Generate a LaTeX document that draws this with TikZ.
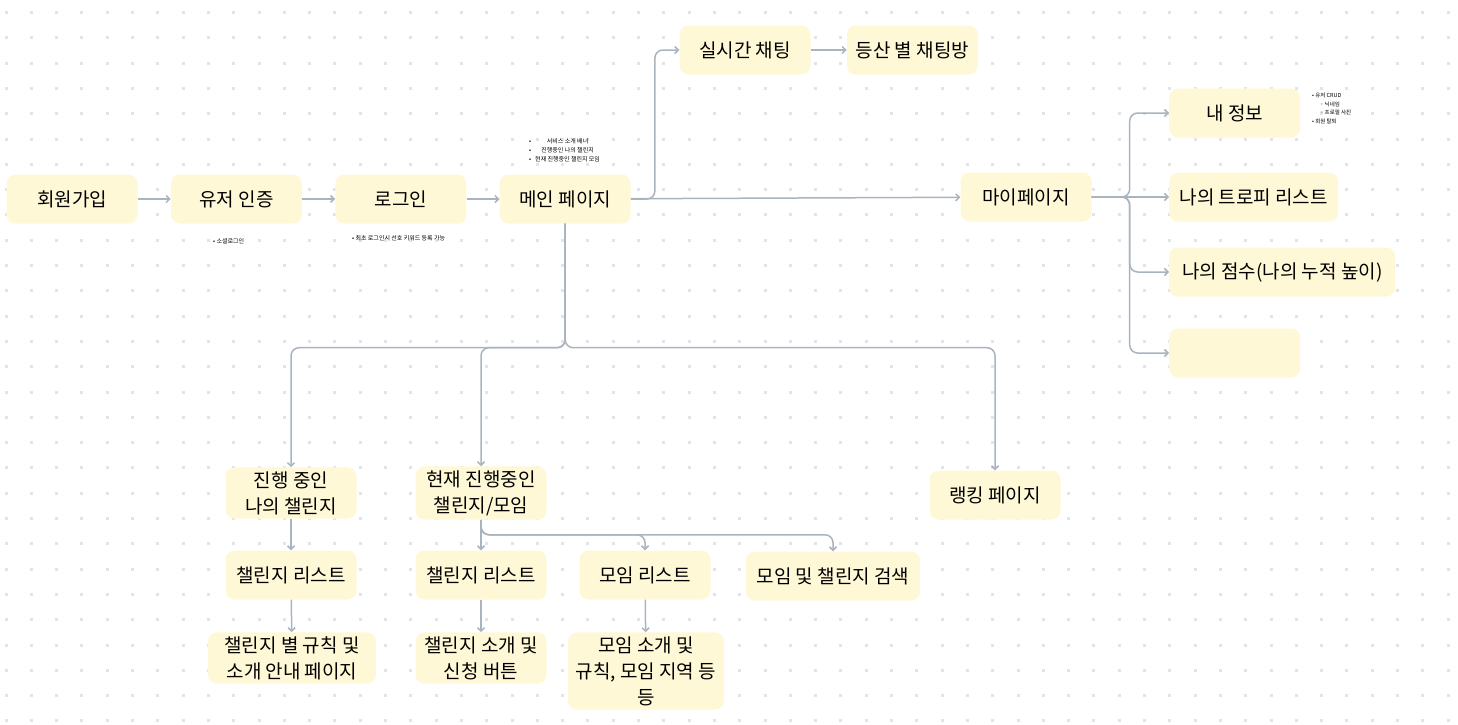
\documentclass[tikz,border=0pt]{standalone}
\usepackage{fontspec}
\setmainfont{Noto Sans CJK KR}
\newfontfamily\symf{DejaVu Sans}
\definecolor{pad}{HTML}{FFF8D6}
\definecolor{wire}{HTML}{AAB4BE}
\definecolor{dotc}{HTML}{E3E4E9}
\usetikzlibrary{positioning,arrows.meta}

\begin{document}
\begin{tikzpicture}[x=1pt,y=-1pt,every node/.style={font=\fontsize{19}{26}\selectfont,align=center},
      bx/.style={fill=pad,rounded corners=9pt,inner xsep=5pt,inner ysep=4pt,minimum width=131pt,minimum height=49pt},
      note/.style={font=\fontsize{6}{9}\selectfont,align=left,inner sep=0pt},
      cn/.style={-{Straight Barb[length=3.5pt,width=7pt]},line width=1.5pt,wire,rounded corners=8pt}]
    \useasboundingbox (0,0) rectangle (1458,724);
    \fill[white] (0,0) rectangle (1458,724);
    % dot grid
    \foreach \i in {0,...,57} \foreach \j in {0,...,28}
      \fill[dotc] ({4.5+25.3*\i},{11+25.3*\j}) rectangle ++(3,3);
    % top row
    \node[bx] (join) at (72,199) {회원가입};
    \node[bx,right=33pt of join] (auth) {유저 인증};
    \node[bx,right=33pt of auth] (login) {로그인};
    \node[bx,right=33pt of login] (main) {메인 페이지};
    \node[bx] (chat) at (745,50) {실시간 채팅};
    \node[bx,right=36pt of chat] (room) {등산 별 채팅방};
    \node[bx] (my) at (1026,197) {마이페이지};
    \node[bx,anchor=west] (info) at (1169,113) {내 정보};
    \node[bx,anchor=west,minimum width=169pt] (trophy) at (1169,197) {나의 트로피 리스트};
    \node[bx,anchor=west,minimum width=226pt] (score) at (1169,272) {나의 점수(나의 누적 높이)};
    \node[bx,anchor=west] (blank) at (1169,353) {};
    % lower tree
    \node[bx] (mych) at (291,493) {진행 중인\\나의 챌린지};
    \node[bx] (curch) at (481,493) {현재 진행중인\\챌린지/모임};
    \node[bx] (rank) at (995,495) {랭킹 페이지};
    \node[bx] (chl1) at (291,575) {챌린지 리스트};
    \node[bx] (chl2) at (481,575) {챌린지 리스트};
    \node[bx] (meet) at (645,575) {모임 리스트};
    \node[bx,minimum width=174pt] (search) at (833,576) {모임 및 챌린지 검색};
    \node[bx,minimum width=168pt] (rule) at (292,658) {챌린지 별 규칙 및\\소개 안내 페이지};
    \node[bx] (apply) at (481,658) {챌린지 소개 및\\신청 버튼};
    \node[bx,minimum width=156pt] (meetd) at (646,671) {모임 소개 및\\규칙, 모임 지역 등\\등};
    % notes
    \node[note,anchor=north west] (n1) at (529,137) {\begin{tabular}{@{}l@{\hspace{4pt}}c@{}}•&서비스 소개 배너\\•&진행중인 나의 챌린지\\•&현재 진행중인 챌린지 모임\end{tabular}};
    \node[note,anchor=west] (n2) at (213,241) {• 소셜로그인};
    \node[note,anchor=west] (n3) at (352,238) {• 최초 로그인시 선호 키워드 등록 가능};
    \node[note,anchor=north west,font=\fontsize{5.5}{8.5}\selectfont] (n4) at (1312,93) {• 유저 CRUD\\\hspace{8pt}{\symf ◦} 닉네임\\\hspace{8pt}{\symf ◦} 프로필 사진\\• 회원 탈퇴};
    % connectors
    \draw[cn] (join)--(auth); \draw[cn] (auth)--(login); \draw[cn] (login)--(main);
    \draw[cn] (main)--(my); \draw[cn] (chat)--(room);
    \draw[cn] (main.east) -- ++(24,0) |- (chat.west);
    \draw[cn] (my.east) -- ++(38,0) |- (info.west); \draw[cn] (my.east)--(trophy.west);
    \draw[cn] (my.east) -- ++(38,0) |- (score.west); \draw[cn] (my.east) -- ++(38,0) |- (blank.west);
    \draw[cn] (main.south) -- ++(0,124) -| (mych.north); \draw[cn] (main.south) -- ++(0,124) -| (curch.north);
    \draw[cn] (main.south) -- ++(0,124) -| (rank.north);
    \draw[cn] (mych)--(chl1); \draw[cn] (chl1)--(rule);
    \draw[cn] (curch)--(chl2); \draw[cn] (chl2)--(apply); \draw[cn] (meet)--(meetd);
    \draw[cn] (curch.south) -- ++(0,15) -| (meet.north); \draw[cn] (curch.south) -- ++(0,15) -| (search.north);
  \end{tikzpicture}
\end{document}
